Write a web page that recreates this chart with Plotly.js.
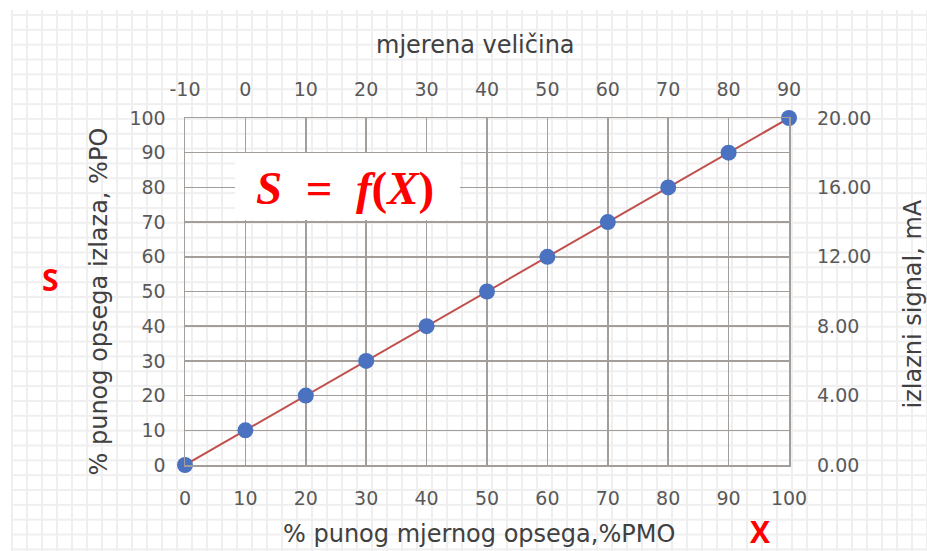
<!DOCTYPE html>
<html>
<head>
<meta charset="utf-8">
<script src="https://cdn.plot.ly/plotly-3.0.1.min.js"></script>
<style>
  html, body { margin:0; padding:0; background:#ffffff; }
  #wrap { position:relative; width:927px; height:551px; overflow:hidden; }
  #bg { position:absolute; left:11px; top:10px; right:0; bottom:0;
        background-image: linear-gradient(to right, #efefef 2px, transparent 2px),
                          linear-gradient(to bottom, #efefef 2px, transparent 2px);
        background-size: 15px 14.85px, 15px 14.85px;
        background-position: 0 0, 0 4px; }
  #chart { position:absolute; left:0; top:0; width:927px; height:551px; }
</style>
</head>
<body>
<div id="wrap">
  <div id="bg"></div>
  <div id="chart"></div>
</div>
<script>
// % of full measuring range (X) and % of full output range (S)
const percentPMO = [0, 10, 20, 30, 40, 50, 60, 70, 80, 90, 100];
const percentPO  = [0, 10, 20, 30, 40, 50, 60, 70, 80, 90, 100];
// measured quantity (top axis) and output signal in mA (right axis)
const mjerenaVelicina = [-10, 0, 10, 20, 30, 40, 50, 60, 70, 80, 90];
const izlazniSignalMA = [0, 2, 4, 6, 8, 10, 12, 14, 16, 18, 20];

const gridCol = '#a39e99';
const tickFont = {family:'"DejaVu Sans", sans-serif', size:19, color:'#595959'};
const titleFont = {family:'"DejaVu Sans", sans-serif', size:24, color:'#404040'};
const redFont = {family:'"Open Sans", sans-serif', size:30, color:'#ff0000', weight:700};

function ann(text, x, y, font, extra) {
  return Object.assign({text:text, xref:'paper', yref:'paper', x:x, y:y,
    xanchor:'center', yanchor:'middle', showarrow:false, font:font}, extra || {});
}

const traces = [
  {
    x: percentPMO, y: percentPO, type:'scatter', mode:'lines+markers',
    line:{color:'#c0504d', width:2},
    marker:{color:'#4a72c0', size:16},
    cliponaxis:false, hoverinfo:'skip', showlegend:false
  },
  {
    x: mjerenaVelicina, y: izlazniSignalMA, xaxis:'x2', yaxis:'y2',
    type:'scatter', mode:'markers', marker:{opacity:0},
    hoverinfo:'skip', showlegend:false
  }
];

const layout = {
  width:927, height:551,
  margin:{l:185, r:138, t:118, b:86},
  paper_bgcolor:'rgba(0,0,0,0)', plot_bgcolor:'rgba(0,0,0,0)',
  showlegend:false,
  xaxis:{range:[0,100], dtick:10, tick0:0, showgrid:true, gridcolor:gridCol, gridwidth:1.5,
         zeroline:false, showline:true, linecolor:gridCol, linewidth:1.5, mirror:true,
         tickfont:tickFont, ticklabelstandoff:16, fixedrange:true},
  yaxis:{range:[0,100], dtick:10, tick0:0, showgrid:true, gridcolor:gridCol, gridwidth:1.5,
         zeroline:false, showline:true, linecolor:gridCol, linewidth:1.5, mirror:true,
         tickfont:tickFont, ticklabelstandoff:14, fixedrange:true},
  xaxis2:{overlaying:'x', side:'top', range:[-10,90], tickmode:'array',
          tickvals:mjerenaVelicina, ticktext:mjerenaVelicina.map(String), showgrid:false,
          zeroline:false, showline:false, tickfont:tickFont, ticklabelstandoff:17, fixedrange:true},
  yaxis2:{overlaying:'y', side:'right', range:[0,20], dtick:4, tick0:0, tickformat:'.2f',
          showgrid:false, zeroline:false, showline:false, tickfont:tickFont,
          ticklabelstandoff:27, fixedrange:true},
  shapes:[
    {type:'rect', xref:'paper', yref:'paper', x0:0.0828, x1:0.4553, y0:0.706, y1:0.899,
     fillcolor:'#ffffff', line:{width:0}, layer:'above'}
  ],
  annotations:[
    ann('% punog mjernog opsega,%PMO', 0.4868, -0.1988, titleFont),
    ann('mjerena veličina', 0.4810, 1.2104, titleFont),
    ann('% punog opsega izlaza, %PO', -0.1416, 0.4726, titleFont, {textangle:-90}),
    ann('izlazni signal, mA', 1.2045, 0.4640, titleFont, {textangle:-90}),
    ann('S', -0.2227, 0.5346, redFont),
    ann('X', 0.952, -0.1930, redFont),
    ann('<b><i>S</i>&nbsp; = &nbsp;<i>f</i>(<i>X</i>)</b>', 0.2641, 0.7983,
        {family:'"Liberation Serif", "DejaVu Serif", serif', size:47, color:'#ff0000'})
  ]
};

Plotly.newPlot('chart', traces, layout, {staticPlot:true, displayModeBar:false});
</script>
</body>
</html>
